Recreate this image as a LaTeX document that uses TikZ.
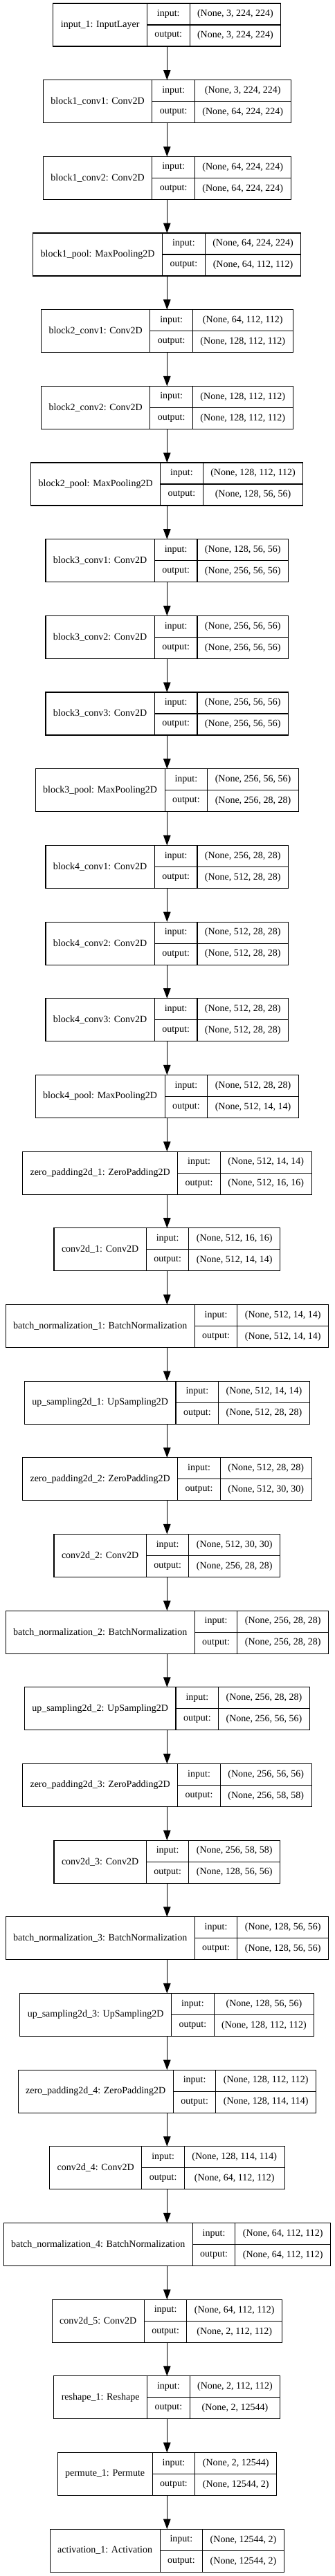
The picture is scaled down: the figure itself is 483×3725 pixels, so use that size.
\documentclass[tikz,border=0pt]{standalone}
\usepackage{fontspec}
\setmainfont{Liberation Serif}
\usetikzlibrary{arrows.meta}
\newlength\lwA \newlength\lwB \newlength\lwC \newlength\lwD
\newcommand\lfont{\fontsize{14}{16}\selectfont}
\tikzset{
  frame/.style={inner sep=0pt, outer sep=0pt, minimum height=62pt},
  cell/.style={draw, line width=1.1pt, inner sep=0pt, outer sep=0pt, minimum height=31pt, font=\lfont},
  arr/.style={line width=1.1pt, -{Triangle[length=14.5pt,width=10.5pt]}}
}
\newcommand\kerasLayer[5]{%
  \pgfinterruptpicture%
    \setbox0\hbox{\lfont #3}\global\lwA=\wd0\relax%
    \setbox0\hbox{\lfont output:}\global\lwB=\wd0\relax%
    \setbox0\hbox{\lfont #4}\global\lwC=\wd0\relax%
    \setbox0\hbox{\lfont #5}\global\lwD=\wd0\relax%
  \endpgfinterruptpicture%
  \ifdim\lwD>\lwC \lwC=\lwD\fi%
  \pgfmathsetmacro\totw{\lwA+\lwB+\lwC+66}%
  \pgfmathsetmacro\ytop{-5-110.67*#2}%
  \node[frame, minimum width=\totw pt, anchor=north] (#1) at (241.3pt,\ytop pt) {};%
  \node[cell, minimum width=\lwA+22pt, minimum height=62pt, anchor=north west] (#1-n) at (#1.north west) {#3};%
  \node[cell, minimum width=\lwB+22pt, anchor=north west] (#1-ik) at (#1-n.north east) {input:};%
  \node[cell, minimum width=\lwB+22pt, anchor=north west] (#1-ok) at (#1-ik.south west) {output:};%
  \node[cell, minimum width=\lwC+22pt, anchor=north west] (#1-iv) at (#1-ik.north east) {#4};%
  \node[cell, minimum width=\lwC+22pt, anchor=north west] (#1-ov) at (#1-iv.south west) {#5};%
}
\begin{document}
\begin{tikzpicture}
\useasboundingbox (0,0) rectangle (483pt,-3725pt);
\kerasLayer{l0}{0}{input\_1: InputLayer}{(None, 3, 224, 224)}{(None, 3, 224, 224)}
\kerasLayer{l1}{1}{block1\_conv1: Conv2D}{(None, 3, 224, 224)}{(None, 64, 224, 224)}
\kerasLayer{l2}{2}{block1\_conv2: Conv2D}{(None, 64, 224, 224)}{(None, 64, 224, 224)}
\kerasLayer{l3}{3}{block1\_pool: MaxPooling2D}{(None, 64, 224, 224)}{(None, 64, 112, 112)}
\kerasLayer{l4}{4}{block2\_conv1: Conv2D}{(None, 64, 112, 112)}{(None, 128, 112, 112)}
\kerasLayer{l5}{5}{block2\_conv2: Conv2D}{(None, 128, 112, 112)}{(None, 128, 112, 112)}
\kerasLayer{l6}{6}{block2\_pool: MaxPooling2D}{(None, 128, 112, 112)}{(None, 128, 56, 56)}
\kerasLayer{l7}{7}{block3\_conv1: Conv2D}{(None, 128, 56, 56)}{(None, 256, 56, 56)}
\kerasLayer{l8}{8}{block3\_conv2: Conv2D}{(None, 256, 56, 56)}{(None, 256, 56, 56)}
\kerasLayer{l9}{9}{block3\_conv3: Conv2D}{(None, 256, 56, 56)}{(None, 256, 56, 56)}
\kerasLayer{l10}{10}{block3\_pool: MaxPooling2D}{(None, 256, 56, 56)}{(None, 256, 28, 28)}
\kerasLayer{l11}{11}{block4\_conv1: Conv2D}{(None, 256, 28, 28)}{(None, 512, 28, 28)}
\kerasLayer{l12}{12}{block4\_conv2: Conv2D}{(None, 512, 28, 28)}{(None, 512, 28, 28)}
\kerasLayer{l13}{13}{block4\_conv3: Conv2D}{(None, 512, 28, 28)}{(None, 512, 28, 28)}
\kerasLayer{l14}{14}{block4\_pool: MaxPooling2D}{(None, 512, 28, 28)}{(None, 512, 14, 14)}
\kerasLayer{l15}{15}{zero\_padding2d\_1: ZeroPadding2D}{(None, 512, 14, 14)}{(None, 512, 16, 16)}
\kerasLayer{l16}{16}{conv2d\_1: Conv2D}{(None, 512, 16, 16)}{(None, 512, 14, 14)}
\kerasLayer{l17}{17}{batch\_normalization\_1: BatchNormalization}{(None, 512, 14, 14)}{(None, 512, 14, 14)}
\kerasLayer{l18}{18}{up\_sampling2d\_1: UpSampling2D}{(None, 512, 14, 14)}{(None, 512, 28, 28)}
\kerasLayer{l19}{19}{zero\_padding2d\_2: ZeroPadding2D}{(None, 512, 28, 28)}{(None, 512, 30, 30)}
\kerasLayer{l20}{20}{conv2d\_2: Conv2D}{(None, 512, 30, 30)}{(None, 256, 28, 28)}
\kerasLayer{l21}{21}{batch\_normalization\_2: BatchNormalization}{(None, 256, 28, 28)}{(None, 256, 28, 28)}
\kerasLayer{l22}{22}{up\_sampling2d\_2: UpSampling2D}{(None, 256, 28, 28)}{(None, 256, 56, 56)}
\kerasLayer{l23}{23}{zero\_padding2d\_3: ZeroPadding2D}{(None, 256, 56, 56)}{(None, 256, 58, 58)}
\kerasLayer{l24}{24}{conv2d\_3: Conv2D}{(None, 256, 58, 58)}{(None, 128, 56, 56)}
\kerasLayer{l25}{25}{batch\_normalization\_3: BatchNormalization}{(None, 128, 56, 56)}{(None, 128, 56, 56)}
\kerasLayer{l26}{26}{up\_sampling2d\_3: UpSampling2D}{(None, 128, 56, 56)}{(None, 128, 112, 112)}
\kerasLayer{l27}{27}{zero\_padding2d\_4: ZeroPadding2D}{(None, 128, 112, 112)}{(None, 128, 114, 114)}
\kerasLayer{l28}{28}{conv2d\_4: Conv2D}{(None, 128, 114, 114)}{(None, 64, 112, 112)}
\kerasLayer{l29}{29}{batch\_normalization\_4: BatchNormalization}{(None, 64, 112, 112)}{(None, 64, 112, 112)}
\kerasLayer{l30}{30}{conv2d\_5: Conv2D}{(None, 64, 112, 112)}{(None, 2, 112, 112)}
\kerasLayer{l31}{31}{reshape\_1: Reshape}{(None, 2, 112, 112)}{(None, 2, 12544)}
\kerasLayer{l32}{32}{permute\_1: Permute}{(None, 2, 12544)}{(None, 12544, 2)}
\kerasLayer{l33}{33}{activation\_1: Activation}{(None, 12544, 2)}{(None, 12544, 2)}
\foreach \a [evaluate=\a as \b using int(\a+1)] in {0,...,32}
  \draw[arr] (l\a.south) -- (l\b.north);
\end{tikzpicture}
\end{document}
